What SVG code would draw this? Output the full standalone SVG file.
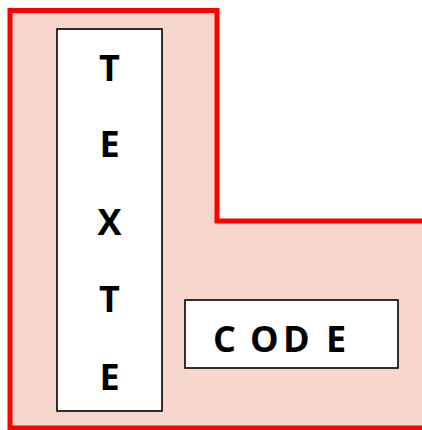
<svg xmlns="http://www.w3.org/2000/svg" width="422" height="430" viewBox="0 0 422 430">
<style>
.box{fill:#fff;stroke:#000;stroke-width:1.6}
.t{font-family:"Open Sans","Liberation Sans",sans-serif;font-weight:bold;font-size:36px;fill:#000}
</style>
<g id="area">
<path d="M10,10.5 H217 V221 H425 V428 H10 Z" fill="#F7D7CD" stroke="#FF0000" stroke-width="5"/>
</g>
<g id="texte">
<rect class="box" x="57" y="29" width="105" height="382"/>
<text class="t" text-anchor="middle" x="109.5" y="81">T</text>
<text class="t" text-anchor="middle" x="109.5" y="157">E</text>
<text class="t" text-anchor="middle" x="109.5" y="235">X</text>
<text class="t" text-anchor="middle" x="109.5" y="312">T</text>
<text class="t" text-anchor="middle" x="109.5" y="390">E</text>
</g>
<g id="code">
<rect class="box" x="185" y="300" width="213" height="68"/>
<text class="t" x="213 250 283 326" y="352">CODE</text>
</g>
<g id="connectors"/>
</svg>
